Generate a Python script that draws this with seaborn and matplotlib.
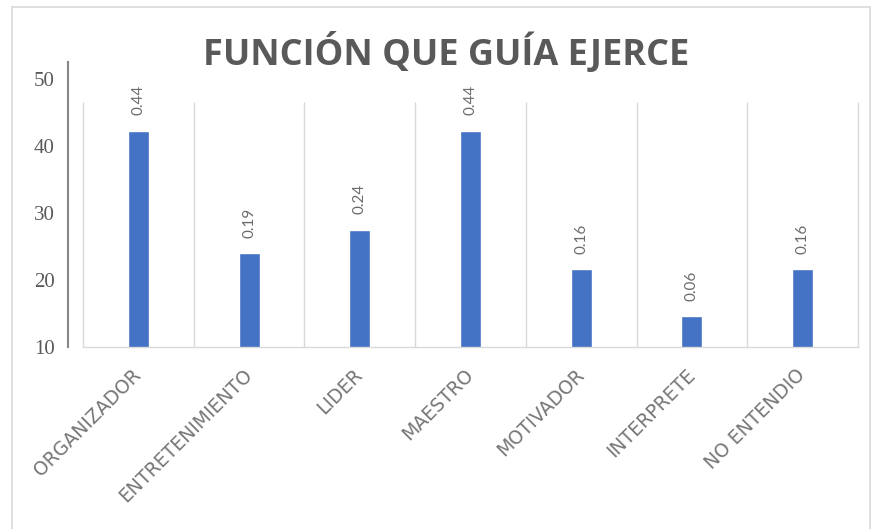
import matplotlib
matplotlib.use('Agg')
import matplotlib.pyplot as plt
import seaborn as sns
import numpy as np
from matplotlib.patches import Rectangle

# Datos
categorias = ['ORGANIZADOR', 'ENTRETENIMIENTO', 'LIDER', 'MAESTRO',
              'MOTIVADOR', 'INTERPRETE', 'NO ENTENDIO']
valores = [42.3, 24.0, 27.5, 42.3, 21.6, 14.6, 21.6]
etiquetas = ['0.44', '0.19', '0.24', '0.44', '0.16', '0.06', '0.16']
y_ticks = [10, 20, 30, 40, 50]

sns.set_style('white')
plt.rcParams['font.family'] = ['DejaVu Sans']

fig = plt.figure(figsize=(8.75, 5.29), dpi=100)
ax = fig.add_axes([83 / 875, 1 - 346.7 / 529, 775 / 875, (346.7 - 61.7) / 529])

sns.barplot(x=categorias, y=valores, color='#4472C4', width=0.19,
            saturation=1, ax=ax)

ax.set_ylim(10, 52.6)
ax.set_xlim(-0.5, 6.5)

# lineas verticales entre categorias
ax.vlines(np.arange(-0.5, 7), 10, 46.65, color='#d9d9d9', lw=1, zorder=0, clip_on=False)

ax.bar_label(ax.containers[0], labels=etiquetas, padding=11, rotation=90,
             fontsize=11, color='#6b6b6b', fontfamily='Lato')

sns.despine(ax=ax, top=True, right=True)
ax.spines['left'].set_position(('outward', 11))
ax.spines['left'].set_bounds(10, 52.6)
ax.spines['left'].set_color('#868686')
ax.spines['left'].set_linewidth(1.5)
ax.spines['bottom'].set_color('#d9d9d9')
ax.spines['bottom'].set_linewidth(1)

ax.set_yticks(y_ticks)
ax.tick_params(axis='y', length=0, pad=9.5, labelsize=15, labelcolor='#595959')
for lbl in ax.get_yticklabels():
    lbl.set_fontfamily('Liberation Serif')

ax.set_xticks(range(len(categorias)))
ax.set_xticklabels(categorias, rotation=45, ha='right', va='center',
                   rotation_mode='anchor', fontsize=13.5, color='#767676')
ax.tick_params(axis='x', length=0, pad=18)
ax.set_xlabel('')
ax.set_ylabel('')

fig.text(446 / 875, 1 - 65 / 529, 'FUNCIÓN QUE GUÍA EJERCE', fontfamily='Open Sans',
         fontweight='bold', fontsize=26, color='#595959', ha='center', va='baseline')

# marco exterior
fig.patches.append(Rectangle((12 / 875, -0.05), (870 - 12) / 875, 1.05 - 7 / 529,
                             transform=fig.transFigure, fill=False,
                             ec='#d9d9d9', lw=1.2))

fig.savefig('out.png', dpi=100)
